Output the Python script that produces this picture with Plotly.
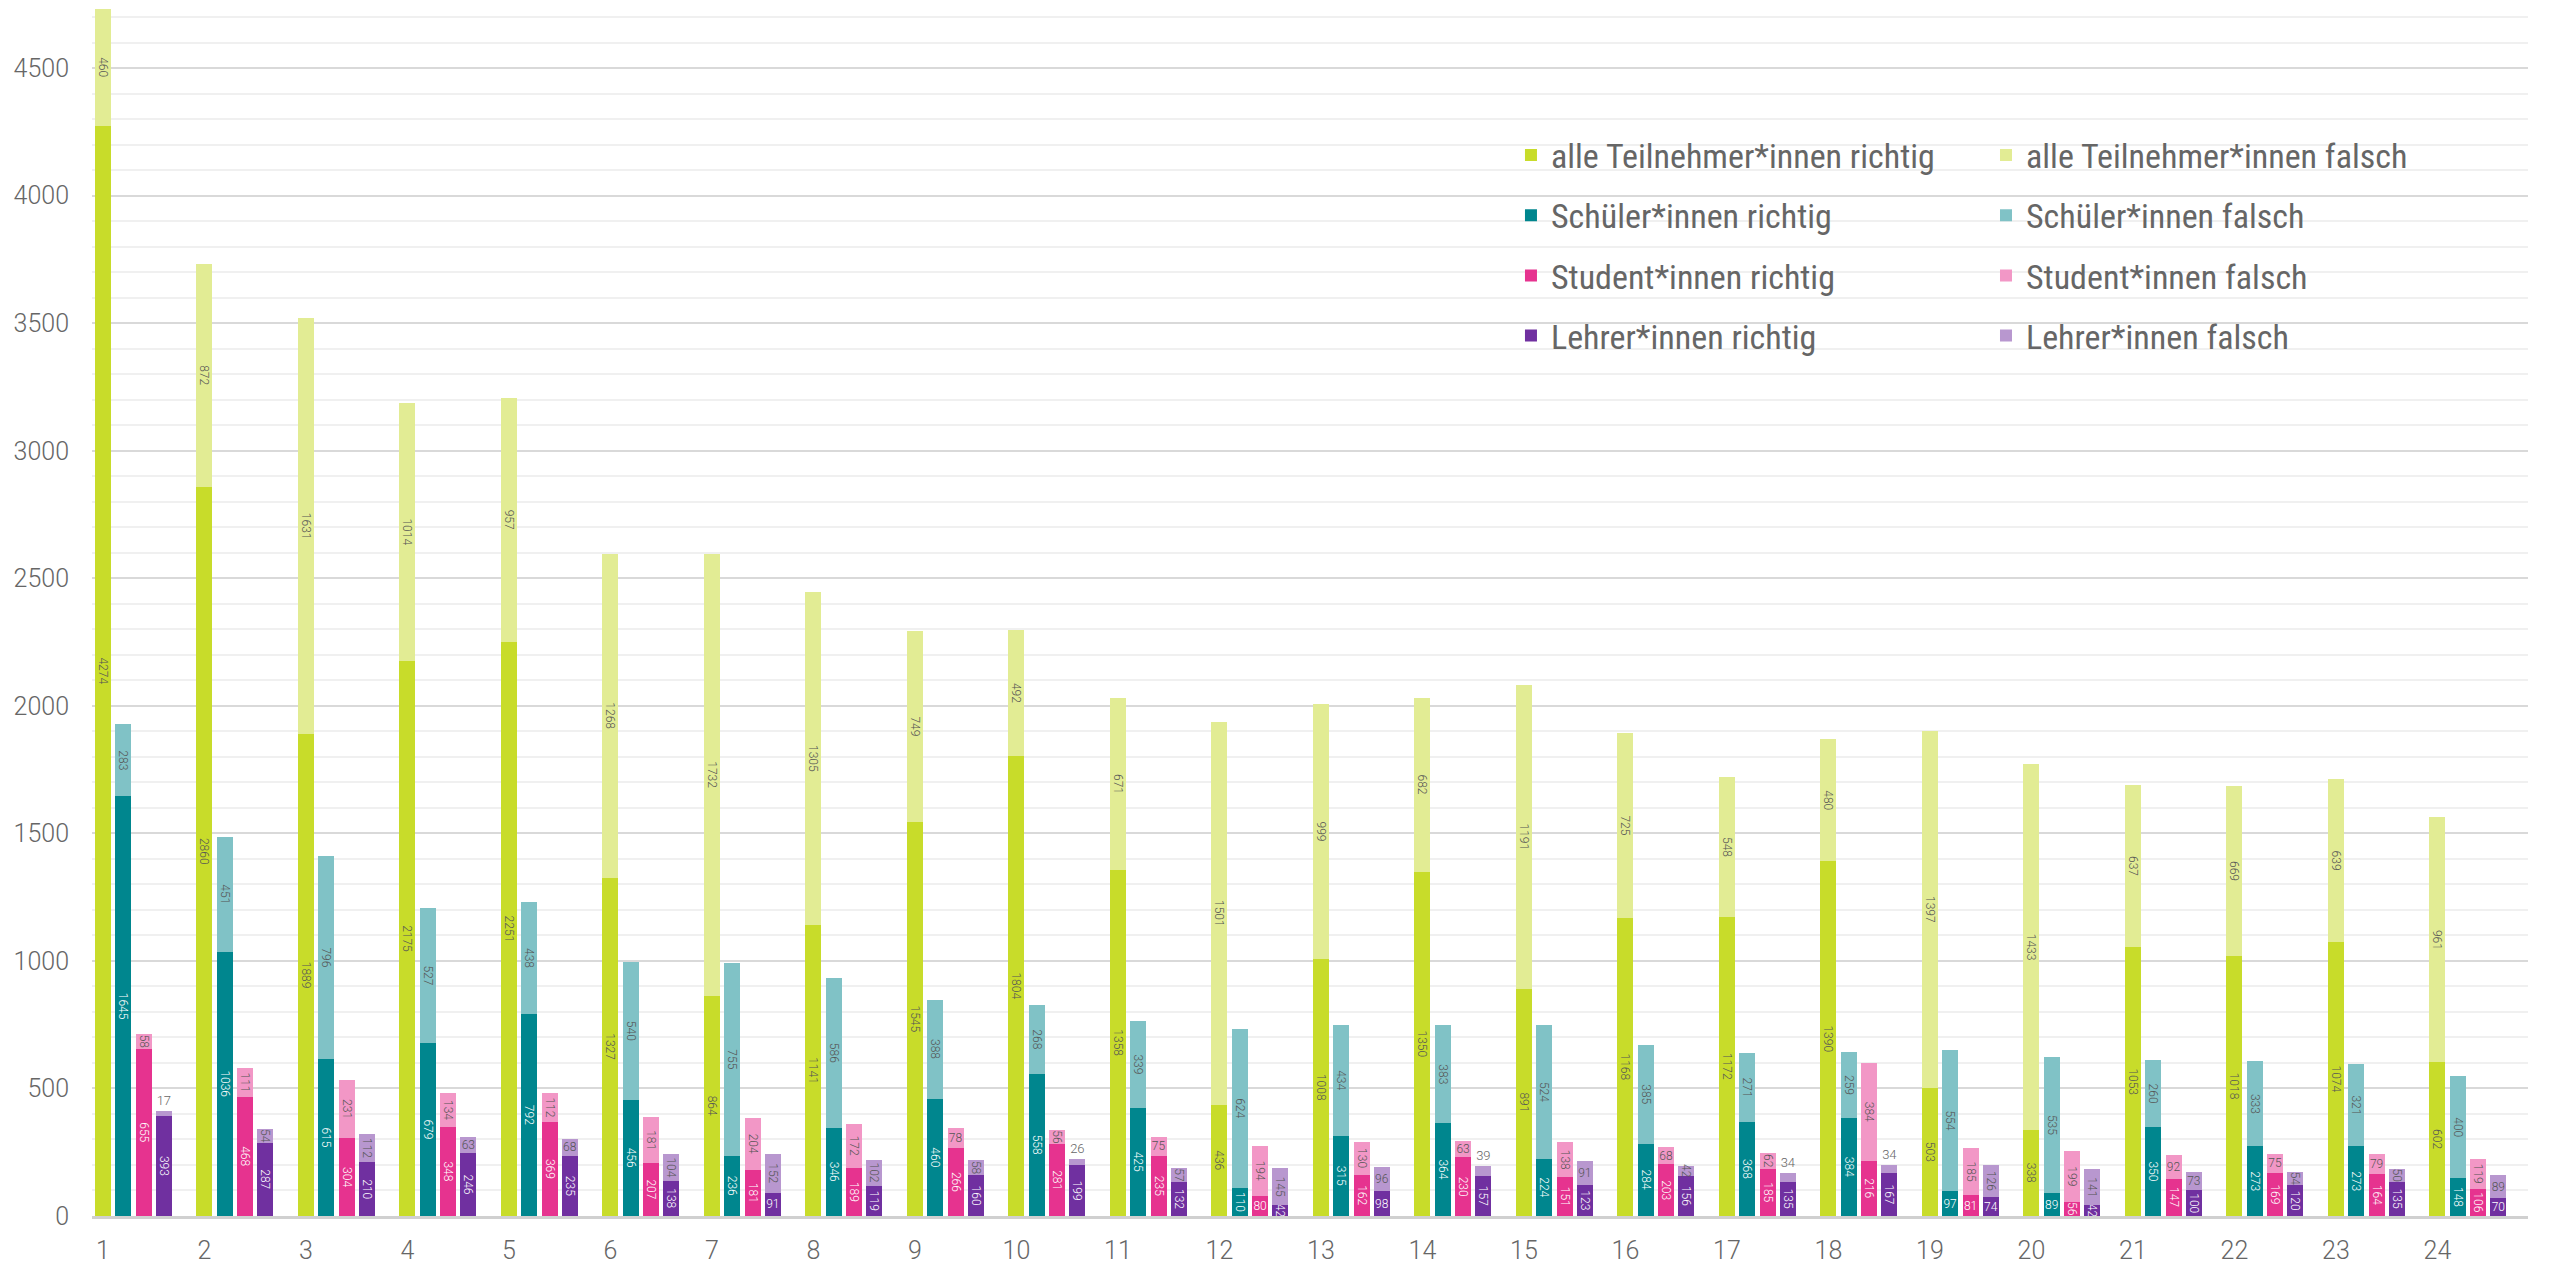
import plotly.graph_objects as go

categories = list(range(1, 25))

alle_richtig = [4274, 2860, 1889, 2175, 2251, 1327, 864, 1141, 1545, 1804, 1358, 436,
                1008, 1350, 891, 1168, 1172, 1390, 503, 338, 1053, 1018, 1074, 602]
alle_falsch = [460, 872, 1631, 1014, 957, 1268, 1732, 1305, 749, 492, 671, 1501,
               999, 682, 1191, 725, 548, 480, 1397, 1433, 637, 669, 639, 961]
schueler_richtig = [1645, 1036, 615, 679, 792, 456, 236, 346, 460, 558, 425, 110,
                    315, 364, 224, 284, 368, 384, 97, 89, 350, 273, 273, 148]
schueler_falsch = [283, 451, 796, 527, 438, 540, 755, 586, 388, 268, 339, 624,
                   434, 383, 524, 385, 271, 259, 554, 535, 260, 333, 321, 400]
student_richtig = [655, 468, 304, 348, 369, 207, 181, 189, 266, 281, 235, 80,
                   162, 230, 151, 203, 185, 216, 81, 56, 147, 169, 164, 106]
student_falsch = [58, 111, 231, 134, 112, 181, 204, 172, 78, 56, 75, 194,
                  130, 63, 138, 68, 62, 384, 185, 199, 92, 75, 79, 119]
lehrer_richtig = [393, 287, 210, 246, 235, 138, 91, 119, 160, 199, 132, 42,
                  98, 157, 123, 156, 135, 167, 74, 42, 100, 120, 135, 70]
lehrer_falsch = [17, 54, 112, 63, 68, 104, 152, 102, 58, 26, 57, 145,
                 96, 39, 91, 42, 34, 34, 126, 141, 73, 54, 50, 89]

series = [
    ("alle Teilnehmer*innen", alle_richtig, alle_falsch, "#C8DC2A", "#E2EC94", "#555555"),
    ("Schüler*innen", schueler_richtig, schueler_falsch, "#00868E", "#80C2C6", "#FFFFFF"),
    ("Student*innen", student_richtig, student_falsch, "#E6338F", "#F297C6", "#FFFFFF"),
    ("Lehrer*innen", lehrer_richtig, lehrer_falsch, "#7030A0", "#B897CF", "#FFFFFF"),
]

group_step = 0.2
bar_width = 0.158
label_font = "Roboto, sans-serif"

fig = go.Figure()
for gi, (name, r_vals, f_vals, c_r, c_f, txt_r) in enumerate(series):
    xs = [c + gi * group_step for c in categories]
    fig.add_trace(go.Bar(
        x=xs, y=r_vals, width=bar_width, name=f"{name} richtig",
        marker=dict(color=c_r, line=dict(width=0)),
        text=[str(v) for v in r_vals], textposition="inside",
        insidetextanchor="middle", constraintext="none",
        insidetextfont=dict(family=label_font, size=12, color=txt_r, weight=300),
        legend="legend", legendgroup=f"r{gi}",
    ))
    fig.add_trace(go.Bar(
        x=xs, y=f_vals, width=bar_width, name=f"{name} falsch",
        marker=dict(color=c_f, line=dict(width=0)),
        text=[str(v) for v in f_vals],
        textposition=["outside" if v < 40 else "inside" for v in f_vals],
        insidetextanchor="middle", constraintext="none",
        insidetextfont=dict(family=label_font, size=12, color="#555555", weight=300),
        outsidetextfont=dict(family=label_font, size=13, color="#666666", weight=300),
        legend="legend2", legendgroup=f"f{gi}",
    ))

legend_font = dict(family="Liberation Sans Narrow, Roboto Condensed, sans-serif", size=34, color="#666666")

fig.update_layout(
    width=2544, height=1257,
    barmode="stack",
    plot_bgcolor="white", paper_bgcolor="white",
    margin=dict(l=84, r=24, t=0, b=46),
    xaxis=dict(
        range=[0.892, 24.892], tickmode="array", tickvals=categories,
        ticktext=[str(c) for c in categories], showgrid=False, zeroline=False,
        showline=True, linecolor="#D0D0D0", linewidth=3,
        tickfont=dict(family="Roboto", size=25, color="#666666", weight=300),
        ticklabelstandoff=10,
    ),
    yaxis=dict(
        range=[0, 4736], dtick=500, tick0=0, showgrid=True,
        gridcolor="#D9D9D9", gridwidth=2, zeroline=False,
        minor=dict(dtick=100, showgrid=True, gridcolor="#F0F0F0", gridwidth=2),
        tickfont=dict(family="Roboto", size=25, color="#666666", weight=300),
        ticklabelstandoff=22,
    ),
    showlegend=True,
    legend=dict(x=0.5825, y=0.902, xanchor="left", yanchor="top",
                font=legend_font, bgcolor="rgba(0,0,0,0)", tracegroupgap=13,
                traceorder="grouped"),
    legend2=dict(x=0.7775, y=0.902, xanchor="left", yanchor="top",
                 font=legend_font, bgcolor="rgba(0,0,0,0)", tracegroupgap=13,
                 traceorder="grouped"),
)

fig.write_html("out.html")
